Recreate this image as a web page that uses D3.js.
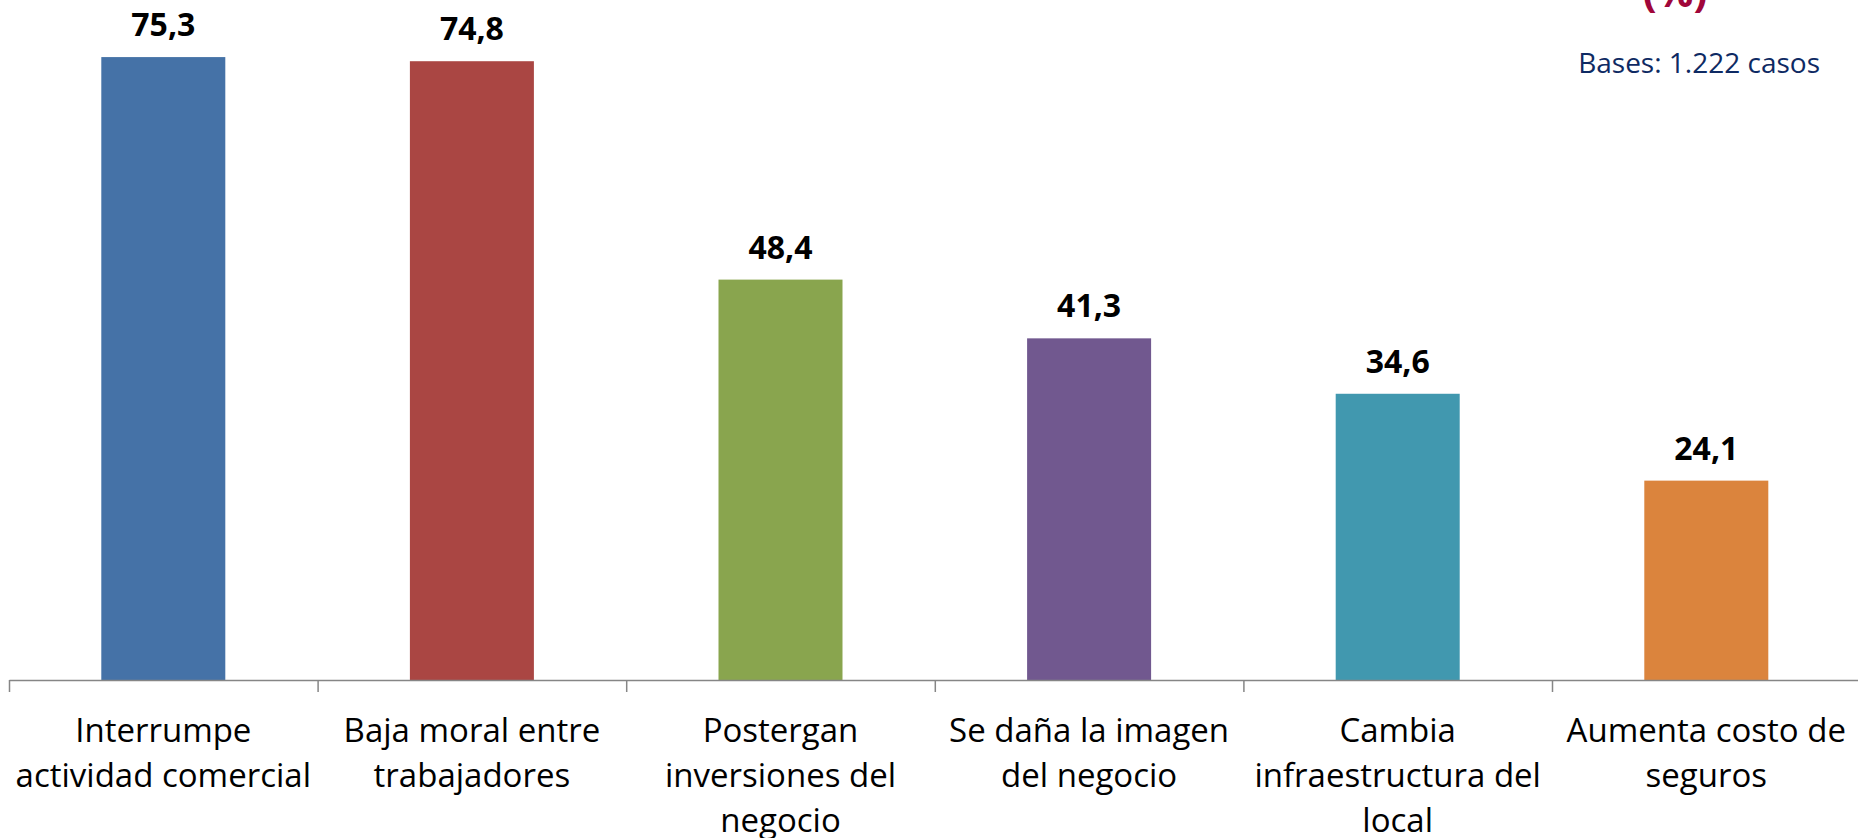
<!DOCTYPE html>
<html>
<head>
<meta charset="utf-8">
<script src="https://cdn.jsdelivr.net/npm/d3@7"></script>
<style>
  html, body {
    margin: 0;
    padding: 0;
    background: #fff;
  }
  svg {
    display: block;
    font-family: "Open Sans", sans-serif;
  }
</style>
</head>
<body>
<svg id="chart" width="1858" height="838"></svg>
<script>
  // data
  const categories = [
    ['Interrumpe', 'actividad comercial'],
    ['Baja moral entre', 'trabajadores'],
    ['Postergan', 'inversiones del', 'negocio'],
    ['Se daña la imagen', 'del negocio'],
    ['Cambia', 'infraestructura del', 'local'],
    ['Aumenta costo de', 'seguros']
  ];
  const values = [75.3, 74.8, 48.4, 41.3, 34.6, 24.1];
  const barColors = ['#4572A7', '#AA4643', '#89A54E', '#71588F', '#4198AF', '#DB843D'];
  const unitLabel = '(%)';
  const baseLabel = 'Bases: 1.222 casos';

  const left = 9, bandW = 308.6, axisY = 680;

  const svg = d3.select('#chart');
  const idx = d3.range(categories.length);

  const x = d3.scaleBand()
    .domain(idx)
    .range([left, left + bandW * categories.length])
    .paddingInner(0)
    .paddingOuter(0);

  const y = d3.scaleLinear()
    .domain([0, 82.2])
    .range([axisY, 0]);

  const barW = 124;

  //bars
  svg.selectAll('.bar')
    .data(values)
    .enter().append('rect')
    .attr('class', 'bar')
    .attr('x', (d, i) => x(i) + (x.bandwidth() - barW) / 2)
    .attr('y', d => y(d))
    .attr('width', barW)
    .attr('height', d => y(0) - y(d))
    .style('fill', (d, i) => barColors[i]);

  //value labels
  svg.selectAll('.val')
    .data(values)
    .enter().append('text')
    .attr('class', 'val')
    .attr('x', (d, i) => x(i) + x.bandwidth() / 2)
    .attr('y', d => y(d) - 21)
    .attr('text-anchor', 'middle')
    .style('font-size', '32px')
    .style('font-weight', 'bold')
    .style('fill', '#000')
    .text(d => d.toFixed(1).replace('.', ','));

  //category axis, ticks between bands
  const edge = d3.scaleLinear()
    .domain([0, categories.length])
    .range([left, left + bandW * categories.length]);

  const axis = svg.append('g')
    .attr('transform', `translate(0,${axisY})`)
    .call(d3.axisBottom(edge)
      .tickValues(idx)
      .tickSize(12)
      .tickSizeOuter(0)
      .tickFormat(''));

  axis.selectAll('path, line')
    .style('stroke', '#868686')
    .style('stroke-width', '1.5px');

  //category labels
  const lab = svg.selectAll('.cat')
    .data(categories)
    .enter().append('text')
    .attr('class', 'cat')
    .attr('text-anchor', 'middle')
    .style('font-size', '33px')
    .style('fill', '#000');

  lab.selectAll('tspan')
    .data((d, i) => d.map(t => ({t: t, i: i})))
    .enter().append('tspan')
    .attr('x', d => x(d.i) + x.bandwidth() / 2)
    .attr('y', (d, j) => 742 + j * 45)
    .text(d => d.t);

  //header bits top right
  svg.append('text')
    .attr('x', 1675)
    .attr('y', 7)
    .attr('text-anchor', 'middle')
    .style('font-size', '41px')
    .style('font-weight', 'bold')
    .style('fill', '#A0063A')
    .text(unitLabel);

  svg.append('text')
    .attr('x', 1820)
    .attr('y', 73)
    .attr('text-anchor', 'end')
    .style('font-size', '28px')
    .style('fill', '#0E2A63')
    .text(baseLabel);
</script>
</body>
</html>
